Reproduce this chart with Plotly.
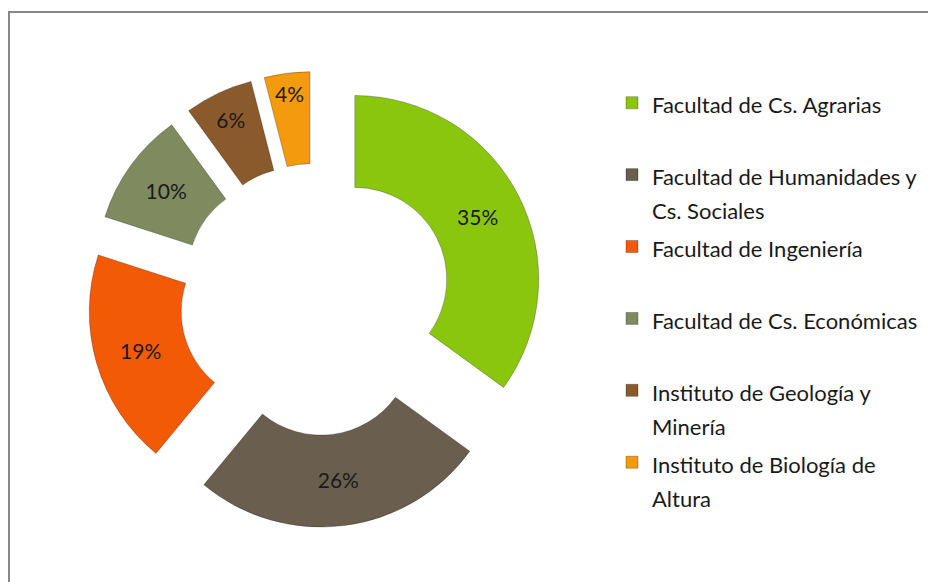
import plotly.graph_objects as go

# Data
categories = [
    "Facultad de Cs. Agrarias",
    "Facultad de Humanidades y Cs. Sociales",
    "Facultad de Ingeniería",
    "Facultad de Cs. Económicas",
    "Instituto de Geología y Minería",
    "Instituto de Biología de Altura",
]
legend_lines = [
    ["Facultad de Cs. Agrarias"],
    ["Facultad de Humanidades y", "Cs. Sociales"],
    ["Facultad de Ingeniería"],
    ["Facultad de Cs. Económicas"],
    ["Instituto de Geología y", "Minería"],
    ["Instituto de Biología de", "Altura"],
]
values = [35, 26, 19, 10, 6, 4]
colors = ["#8BC60F", "#6A5E4E", "#F25A05", "#7F8A5E", "#8A5A2C", "#F39A0D"]

W, H = 928, 582

# every legend entry gets two lines so all entries share one height
def fmt(line):
    return '<span style="font-size:22px">' + line + "</span>"

labels = ["<br>".join([fmt(l) for l in lines] + ["&nbsp;"] * (2 - len(lines))) for lines in legend_lines]

cx, cy, half = 315.5, 299.4, 228
fig = go.Figure(
    go.Pie(
        labels=labels,
        values=values,
        customdata=categories,
        hovertemplate="%{customdata}: %{percent}<extra></extra>",
        sort=False,
        direction="clockwise",
        rotation=0,
        hole=0.5,
        pull=[0.24] * len(values),
        marker=dict(colors=colors, line=dict(color="rgba(0,0,0,0.25)", width=1)),
        textinfo="percent",
        textposition="inside",
        insidetextorientation="horizontal",
        textfont=dict(family="Lato", size=21, color="#1a1a1a"),
        domain=dict(
            x=[(cx - half) / W, (cx + half) / W],
            y=[1 - (cy + half) / H, 1 - (cy - half) / H],
        ),
    )
)

fig.update_layout(
    width=W,
    height=H,
    margin=dict(l=0, r=0, t=0, b=0),
    paper_bgcolor="white",
    plot_bgcolor="white",
    showlegend=True,
    legend=dict(
        x=612 / W,
        xanchor="left",
        y=1 - 79 / H,
        yanchor="top",
        valign="top",
        font=dict(family="Lato", size=26.5, color="#1a1a1a"),
        bgcolor="rgba(0,0,0,0)",
        traceorder="normal",
    ),
    shapes=[
        dict(type="line", xref="paper", yref="paper", x0=8 / W, x1=1,
             y0=1 - 12 / H, y1=1 - 12 / H,
             line=dict(color="#888888", width=2)),
        dict(type="line", xref="paper", yref="paper", x0=9 / W, x1=9 / W,
             y0=0, y1=1 - 12 / H,
             line=dict(color="#888888", width=2)),
    ],
)

fig.write_html(
    "out.html",
    config={"displayModeBar": False},
    post_script="document.body.style.margin='0';document.body.style.overflow='hidden';",
)
